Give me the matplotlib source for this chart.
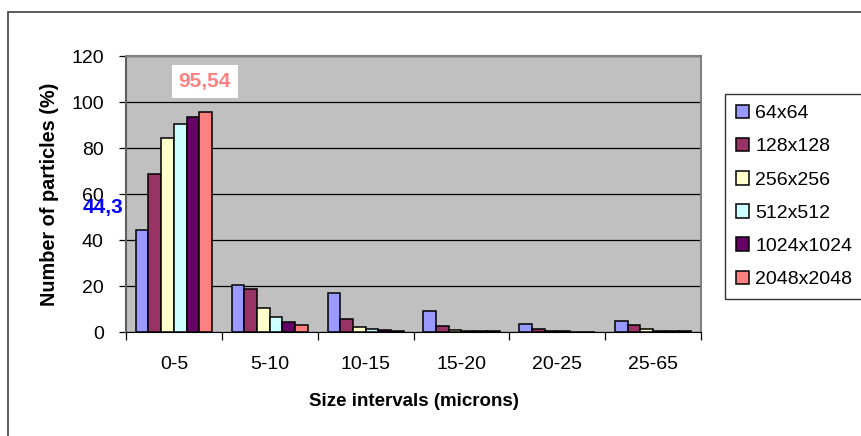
import numpy as np
import matplotlib
matplotlib.use('Agg')
import matplotlib.pyplot as plt
from matplotlib.patches import Rectangle

plt.rcParams['font.family'] = ['Liberation Sans', 'DejaVu Sans']

intervals = ['0-5', '5-10', '10-15', '15-20', '20-25', '25-65']
grids = ['64x64', '128x128', '256x256', '512x512', '1024x1024', '2048x2048']

# percentage of particles per size interval, one list per grid resolution
p64 = [44.3, 20.6, 16.8, 9.3, 3.5, 4.9]
p128 = [68.7, 18.6, 5.8, 2.4, 1.2, 2.9]
p256 = [84.3, 10.4, 2.0, 1.0, 0.5, 1.2]
p512 = [90.3, 6.7, 1.2, 0.6, 0.3, 0.6]
p1024 = [93.3, 4.3, 0.7, 0.4, 0.2, 0.4]
p2048 = [95.54, 3.0, 0.4, 0.3, 0.1, 0.3]
series = [p64, p128, p256, p512, p1024, p2048]

colors = ['#9999FF', '#993366', '#FFFFCC', '#CCFFFF', '#660066', '#FF8080']

fig = plt.figure(figsize=(8.61, 4.36), dpi=100)
ax = fig.add_axes([0.1463, 0.2385, 0.668, 0.633])
ax.set_facecolor('#C0C0C0')

x = np.arange(len(intervals))
w = 0.1325
for i, (vals, c, name) in enumerate(zip(series, colors, grids)):
    ax.bar(x + (i - 2.5) * w, vals, width=w, color=c, edgecolor='black',
           linewidth=1.1, label=name, zorder=3)

ax.set_xlim(-0.5, len(intervals) - 0.5)
ax.set_ylim(0, 120)
ax.set_yticks(range(0, 121, 20))
ax.yaxis.grid(True, color='black', linewidth=0.9, zorder=0)
ax.set_axisbelow(True)

ax.set_xticks(x)
ax.set_xticklabels(intervals, fontsize=14)
ax.set_xticks(np.arange(-0.5, len(intervals)), minor=True)
ax.tick_params(axis='x', which='major', length=0, pad=17)
ax.tick_params(axis='x', which='minor', length=6, width=0.9, direction='out')
ax.tick_params(axis='y', labelsize=14, length=5, width=0.9, direction='out', pad=11)

for side in ['top', 'right']:
    ax.spines[side].set_color('#808080')
    ax.spines[side].set_linewidth(1.5)
ax.spines['left'].set_color('#606060')
ax.spines['left'].set_linewidth(1.5)
ax.spines['bottom'].set_color('black')

ax.set_xlabel('Size intervals (microns)', fontsize=13.5, fontweight='bold', labelpad=15)
ax.set_ylabel('Number of particles (%)', fontsize=14.3, fontweight='bold', labelpad=9)

# data labels for the first and last series in the 0-5 group
ax.text(-0.53, 54, '44,3', color='#0000FF', fontsize=15, fontweight='bold',
        ha='right', va='center', clip_on=False)
ax.text(0.32, 109, '95,54', color='#FF8080', fontsize=15, fontweight='bold',
        ha='center', va='center',
        bbox=dict(facecolor='white', edgecolor='none', pad=5))

leg = fig.legend(loc='upper left', bbox_to_anchor=(725 / 861, 1 - 94 / 436),
                 fontsize=14, frameon=True, fancybox=False, borderaxespad=0,
                 handlelength=0.7, handleheight=0.7, handletextpad=0.3,
                 labelspacing=0.8, borderpad=0.55)
leg.get_frame().set_edgecolor('black')
leg.get_frame().set_linewidth(1.0)

# outer chart frame
fig.patches.append(Rectangle((8 / 861, -0.1), 1.2, 1 - 12 / 436 + 0.1,
                             transform=fig.transFigure, fill=False,
                             edgecolor='#404040', linewidth=1.2))

fig.savefig('out.png', dpi=100)
